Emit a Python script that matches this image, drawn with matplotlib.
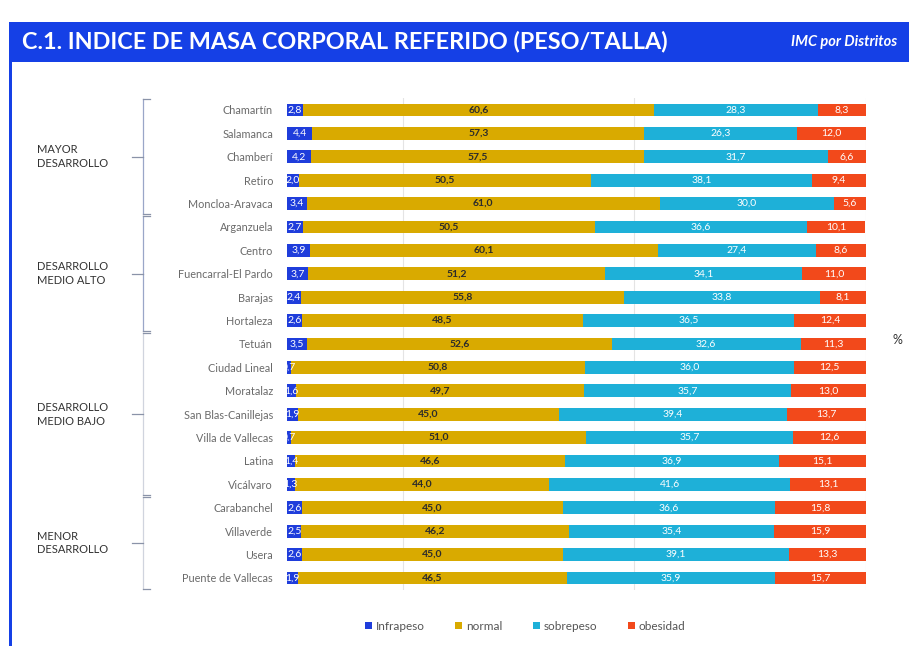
import matplotlib
matplotlib.use("Agg")
import matplotlib.pyplot as plt
from matplotlib.patches import Rectangle
from matplotlib.transforms import blended_transform_factory

districts = ["Chamartín", "Salamanca", "Chamberí", "Retiro", "Moncloa-Aravaca",
             "Arganzuela", "Centro", "Fuencarral-El Pardo", "Barajas", "Hortaleza",
             "Tetuán", "Ciudad Lineal", "Moratalaz", "San Blas-Canillejas", "Villa de Vallecas",
             "Latina", "Vicálvaro", "Carabanchel", "Villaverde", "Usera", "Puente de Vallecas"]
infrapeso = [2.8, 4.4, 4.2, 2.0, 3.4, 2.7, 3.9, 3.7, 2.4, 2.6,
             3.5, 0.7, 1.6, 1.9, 0.7, 1.4, 1.3, 2.6, 2.5, 2.6, 1.9]
normal = [60.6, 57.3, 57.5, 50.5, 61.0, 50.5, 60.1, 51.2, 55.8, 48.5,
          52.6, 50.8, 49.7, 45.0, 51.0, 46.6, 44.0, 45.0, 46.2, 45.0, 46.5]
sobrepeso = [28.3, 26.3, 31.7, 38.1, 30.0, 36.6, 27.4, 34.1, 33.8, 36.5,
             32.6, 36.0, 35.7, 39.4, 35.7, 36.9, 41.6, 36.6, 35.4, 39.1, 35.9]
obesidad = [8.3, 12.0, 6.6, 9.4, 5.6, 10.1, 8.6, 11.0, 8.1, 12.4,
            11.3, 12.5, 13.0, 13.7, 12.6, 15.1, 13.1, 15.8, 15.9, 13.3, 15.7]
series_names = ["Infrapeso", "normal", "sobrepeso", "obesidad"]
series_colors = ["#1f3ddb", "#d9aa00", "#1eb0d8", "#f2491b"]
label_colors = ["white", "#2b2b2b", "white", "white"]
groups = ["MAYOR\nDESARROLLO", "DESARROLLO\nMEDIO ALTO", "DESARROLLO\nMEDIO BAJO", "MENOR\nDESARROLLO"]
group_ranges = [(0, 4), (5, 9), (10, 16), (17, 20)]

W, H = 909, 646
fig = plt.figure(figsize=(W / 100, H / 100), dpi=100)
fig.patch.set_facecolor("white")

# frame: title bar and left border
blue = "#1540e6"
fig.patches.append(Rectangle((10 / W, 1 - 62 / H), 1 - 10 / W, 40 / H, transform=fig.transFigure,
                             facecolor=blue, edgecolor="none", zorder=0))
fig.patches.append(Rectangle((9 / W, 0), 3 / W, 1 - 22 / H, transform=fig.transFigure,
                             facecolor=blue, edgecolor="none", zorder=0))
fig.text(22 / W, 1 - 42 / H, "C.1. INDICE DE MASA CORPORAL REFERIDO (PESO/TALLA)", color="white",
         fontsize=16.8, fontweight="bold", family="Lato", va="center", ha="left")
fig.text(897 / W, 1 - 42 / H, "IMC por Distritos", color="white", fontsize=10.5,
         fontweight="bold", style="italic", family="Lato", va="center", ha="right")

n = len(districts)
top_px, step = 110, 23.4
ax_top = top_px - step / 2
ax_h = n * step
ax = fig.add_axes([287 / W, 1 - (ax_top + ax_h) / H, (866 - 287) / W, ax_h / H])
ax.set_xlim(0, 100)
ax.set_ylim(n - 0.5, -0.5)
for s in ax.spines.values():
    s.set_visible(False)
ax.set_xticks([])
ax.set_yticks(range(n))
ax.set_yticklabels(districts, fontsize=7.8, color="#6a6a6a", family="Lato")
ax.tick_params(axis="y", length=0, pad=10)
for gx in [20, 60, 100]:
    ax.axvline(gx, color="#e4e4e4", lw=0.8, zorder=0)

data = [infrapeso, normal, sobrepeso, obesidad]
left = [0.0] * n
for si, vals in enumerate(data):
    bars = ax.barh(range(n), vals, left=left, height=0.54, color=series_colors[si],
                   label=series_names[si], zorder=2)
    for i, (b, v) in enumerate(zip(bars, vals)):
        cx = left[i] + v / 2
        t = ax.text(cx, i, f"{v:.1f}".replace(".", ","), ha="center", va="center",
                    fontsize=7.5, color=label_colors[si], family="Lato", zorder=3,
                    fontweight="bold" if si == 1 else "normal")
        t.set_clip_path(b)
    left = [l + v for l, v in zip(left, vals)]

# group brackets
tr = blended_transform_factory(fig.transFigure, ax.transData)
bx = 143 / W
for gi, (a, b) in enumerate(group_ranges):
    col = "#9aa6c8" if gi < 2 else "#d0d4de"
    y0, y1 = a - 0.45, b + 0.45
    ax.plot([bx, bx], [y0, y1], transform=tr, color=col, lw=0.9, clip_on=False)
    ax.plot([bx, bx + 7 / W], [y0, y0], transform=tr, color="#8a93a8", lw=0.9, clip_on=False)
    ax.plot([bx, bx + 7 / W], [y1, y1], transform=tr, color="#8a93a8", lw=0.9, clip_on=False)
    ym = (a + b) / 2
    ax.plot([bx - 11 / W, bx], [ym, ym], transform=tr, color="#8a93a8", lw=0.9, clip_on=False)
    ax.text(37 / W, ym, groups[gi], transform=tr, ha="left", va="center", fontsize=8,
            color="#333333", family="Lato", linespacing=1.3)

fig.text(897 / W, 1 - 340 / H, "%", fontsize=9, color="#333333", ha="center", va="center", family="Lato")

handles, labels = ax.get_legend_handles_labels()
fig.legend(handles, labels, loc="center", bbox_to_anchor=(525 / W, 1 - 626 / H), ncol=4,
           frameon=False, handlelength=0.6, handleheight=0.6, handletextpad=0.3,
           columnspacing=2.6, prop={"family": "Lato", "size": 8.5}, labelcolor="#555555")

fig.savefig("out.png", dpi=100, facecolor="white")
